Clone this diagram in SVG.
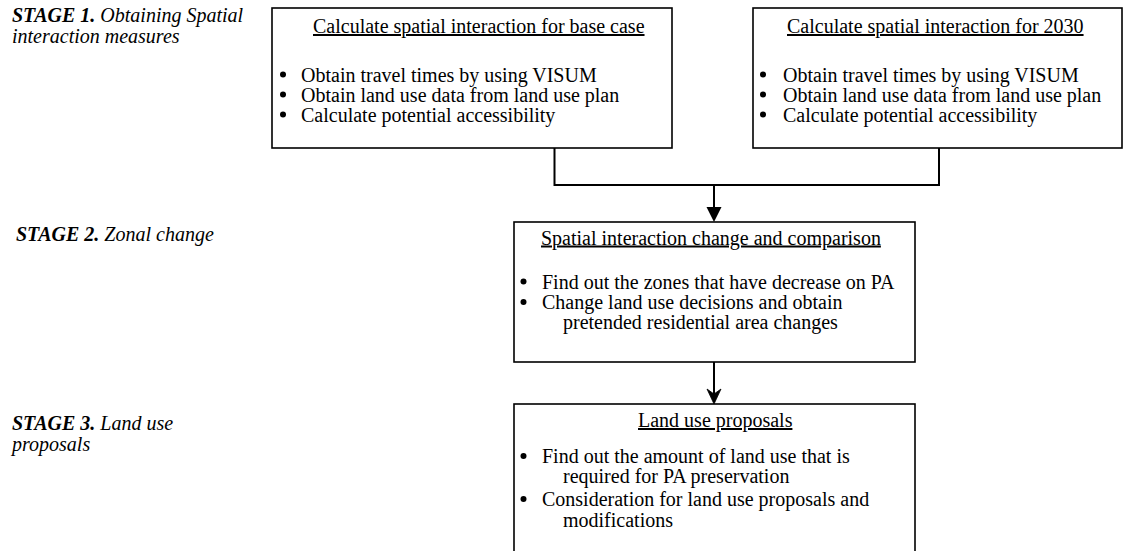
<svg xmlns="http://www.w3.org/2000/svg" width="1124" height="551" viewBox="0 0 1124 551">
<style>
  .box { fill: #fff; stroke: #000; stroke-width: 1.6; }
  .t { font-family: "Liberation Serif", "Times New Roman", serif; font-size: 20px; fill: #000; }
  .title { text-decoration: underline; }
  .stage { font-family: "Liberation Serif", "Times New Roman", serif; font-size: 20px; font-style: italic; fill: #000; }
  .stage .b { font-weight: bold; }
  .conn { fill: none; stroke: #000; stroke-width: 2; }
  .dot { fill: #000; }
</style>
<rect width="1124" height="551" fill="#fff"/>

<g id="stage1-label">
  <text class="stage" x="12" y="22"><tspan class="b">STAGE 1.</tspan> Obtaining Spatial</text>
  <text class="stage" x="12" y="43">interaction measures</text>
</g>
<g id="stage2-label">
  <text class="stage" x="16" y="241"><tspan class="b">STAGE 2.</tspan> Zonal change</text>
</g>
<g id="stage3-label">
  <text class="stage" x="12" y="430"><tspan class="b">STAGE 3.</tspan> Land use</text>
  <text class="stage" x="12" y="451">proposals</text>
</g>

<g id="connectors">
  <path class="conn" d="M554.5,148 V185 H939 V148"/>
  <path class="conn" d="M714,185 V208"/>
  <path d="M706.5,207 L721.5,207 L714,222 Z" fill="#000"/>
  <path class="conn" d="M714,362 V396"/>
  <path d="M714,404 L707,389 L714,394 L721,389 Z" fill="#000" stroke="#000" stroke-width="0.8" stroke-linejoin="miter"/>
</g>

<g id="box-base-case">
  <rect class="box" x="272" y="8" width="400" height="140"/>
  <text class="t title" x="313" y="33">Calculate spatial interaction for base case</text>
  <circle class="dot" cx="283" cy="74.5" r="3"/>
  <text class="t" x="301" y="81.5">Obtain travel times by using VISUM</text>
  <circle class="dot" cx="283" cy="94.5" r="3"/>
  <text class="t" x="301" y="101.5">Obtain land use data from land use plan</text>
  <circle class="dot" cx="283" cy="114.5" r="3"/>
  <text class="t" x="301" y="121.5">Calculate potential accessibility</text>
</g>

<g id="box-2030">
  <rect class="box" x="753" y="8" width="369" height="140"/>
  <text class="t title" x="787" y="33">Calculate spatial interaction for 2030</text>
  <circle class="dot" cx="763" cy="74.5" r="3"/>
  <text class="t" x="783" y="81.5">Obtain travel times by using VISUM</text>
  <circle class="dot" cx="763" cy="94.5" r="3"/>
  <text class="t" x="783" y="101.5">Obtain land use data from land use plan</text>
  <circle class="dot" cx="763" cy="114.5" r="3"/>
  <text class="t" x="783" y="121.5">Calculate potential accessibility</text>
</g>

<g id="box-change">
  <rect class="box" x="514" y="222" width="401" height="140"/>
  <text class="t title" x="541" y="244.5">Spatial interaction change and comparison</text>
  <circle class="dot" cx="523.5" cy="281.5" r="3"/>
  <text class="t" x="542" y="288.5">Find out the zones that have decrease on PA</text>
  <circle class="dot" cx="523.5" cy="302" r="3"/>
  <text class="t" x="542" y="309">Change land use decisions and obtain</text>
  <text class="t" x="563" y="329">pretended residential area changes</text>
</g>

<g id="box-proposals">
  <rect class="box" x="514" y="404" width="401" height="160"/>
  <text class="t title" x="638" y="427">Land use proposals</text>
  <circle class="dot" cx="523.5" cy="456" r="3"/>
  <text class="t" x="542" y="463">Find out the amount of land use that is</text>
  <text class="t" x="563" y="483">required for PA preservation</text>
  <circle class="dot" cx="523.5" cy="499" r="3"/>
  <text class="t" x="542" y="506">Consideration for land use proposals and</text>
  <text class="t" x="563" y="527">modifications</text>
</g>
</svg>
